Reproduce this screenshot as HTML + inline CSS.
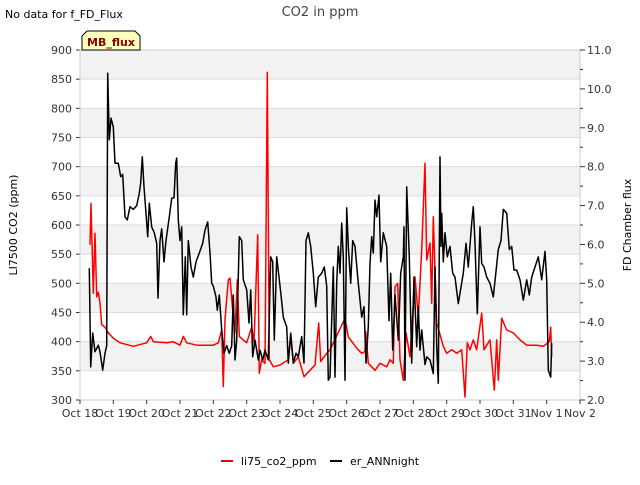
<!DOCTYPE html>
<html><head><meta charset="utf-8"><style>
body{margin:0;background:#fff;font-family:"Liberation Sans","DejaVu Sans",sans-serif;}
svg text{font-family:"DejaVu Sans","Liberation Sans",sans-serif;}
</style></head><body>
<svg id="chart" width="640" height="480" viewBox="0 0 640 480">
<g id="bands"></g>
<g id="grid"></g>
<g id="axes"></g>
<g id="series"></g>
<text x="320" y="16" font-size="13" fill="#444" text-anchor="middle">CO2 in ppm</text>
<text x="5" y="18" font-size="11" fill="#000">No data for f_FD_Flux</text>
<g>
<path d="M82,50 L82,36 L87,31 L135,31 L140,36 L140,50 Z" fill="#ffffc0" stroke="#000" stroke-width="1"/>
<text x="111" y="46" font-size="11" font-weight="bold" fill="#8b0000" text-anchor="middle">MB_flux</text>
</g>
<text transform="translate(17,225) rotate(-90)" font-size="11" text-anchor="middle">LI7500 CO2 (ppm)</text>
<text transform="translate(631,225) rotate(-90)" font-size="11" text-anchor="middle">FD Chamber flux</text>
<g>
<g><line x1="221" y1="461" x2="233" y2="461" stroke="#e00" stroke-width="2"/><text x="241" y="465" font-size="11">li75_co2_ppm</text></g>
<g><line x1="330" y1="461" x2="342" y2="461" stroke="#000" stroke-width="2"/><text x="350" y="465" font-size="11">er_ANNnight</text></g>
</g>
</svg>
<script>
const xTickLabels=["Oct 18","Oct 19","Oct 20","Oct 21","Oct 22","Oct 23","Oct 24","Oct 25","Oct 26","Oct 27","Oct 28","Oct 29","Oct 30","Oct 31","Nov 1","Nov 2"];
const leftTicks=[300,350,400,450,500,550,600,650,700,750,800,850,900];
const rightTicks=[2,3,4,5,6,7,8,9,10,11];
const co2Days=[0.3,0.33,0.4,0.45,0.5,0.55,0.6,0.65,0.75,0.85,1.0,1.2,1.6,2.0,2.12,2.2,2.6,2.8,3.0,3.1,3.2,3.5,4.0,4.15,4.25,4.3,4.35,4.45,4.5,4.58,4.65,4.72,4.78,5.0,5.15,5.22,5.33,5.38,5.45,5.55,5.62,5.68,5.8,6.0,6.25,6.32,6.4,6.55,6.72,6.9,7.05,7.16,7.22,7.4,7.5,7.95,8.05,8.3,8.45,8.55,8.57,8.65,8.85,9.0,9.2,9.3,9.4,9.45,9.53,9.6,9.7,9.78,9.9,10.05,10.15,10.25,10.35,10.4,10.5,10.55,10.6,10.7,10.9,11.0,11.15,11.3,11.45,11.55,11.62,11.7,11.8,11.9,12.05,12.12,12.3,12.43,12.5,12.55,12.65,12.8,13.0,13.2,13.4,13.7,13.9,14.08,14.12,14.15];
const co2Vals=[566,637,483,586,477,485,466,429,425,415,406,398,392,398,409,400,398,400,394,409,398,394,394,398,420,323,437,506,509,454,415,506,409,398,425,398,583,346,369,363,862,369,357,360,369,409,363,374,340,351,360,432,366,380,386,440,408,389,380,383,417,363,351,363,357,369,363,494,500,369,334,415,374,511,443,557,706,540,569,466,614,432,392,380,386,380,386,305,398,386,403,386,449,386,403,317,403,334,440,420,415,403,394,394,392,400,425,374];
const fluxDays=[0.28,0.32,0.38,0.45,0.55,0.6,0.68,0.75,0.8,0.83,0.88,0.93,1.0,1.05,1.15,1.22,1.28,1.35,1.42,1.5,1.6,1.7,1.78,1.82,1.87,1.92,1.98,2.03,2.08,2.15,2.23,2.3,2.34,2.4,2.45,2.52,2.58,2.68,2.75,2.82,2.87,2.9,2.95,3.0,3.05,3.1,3.16,3.2,3.25,3.33,3.4,3.48,3.58,3.68,3.75,3.83,3.9,3.95,4.0,4.08,4.12,4.18,4.25,4.32,4.4,4.48,4.55,4.6,4.65,4.7,4.78,4.85,4.9,5.0,5.07,5.12,5.18,5.25,5.35,5.4,5.48,5.55,5.65,5.72,5.78,5.83,5.9,5.98,6.03,6.1,6.2,6.25,6.32,6.4,6.48,6.55,6.65,6.72,6.78,6.85,6.92,7.0,7.07,7.15,7.25,7.33,7.4,7.45,7.5,7.6,7.65,7.7,7.75,7.8,7.85,7.9,7.95,8.0,8.05,8.12,8.18,8.25,8.35,8.45,8.52,8.58,8.65,8.7,8.75,8.8,8.85,8.9,8.97,9.02,9.1,9.2,9.27,9.32,9.38,9.45,9.55,9.62,9.7,9.72,9.75,9.8,9.88,9.95,10.02,10.1,10.15,10.2,10.25,10.35,10.4,10.5,10.6,10.65,10.7,10.75,10.8,10.83,10.85,10.9,10.95,11.02,11.1,11.18,11.25,11.35,11.5,11.58,11.65,11.75,11.8,11.85,11.92,12.0,12.05,12.12,12.2,12.3,12.4,12.55,12.63,12.7,12.8,12.88,12.95,13.02,13.1,13.2,13.3,13.4,13.48,13.55,13.65,13.75,13.85,13.95,14.0,14.05,14.12,14.15,14.22,14.3];
const fluxVals=[5.39,2.85,3.72,3.24,3.41,3.24,2.77,3.2,3.4,10.4,8.69,9.25,9.02,8.09,8.09,7.74,7.8,6.71,6.63,6.97,6.9,7.0,7.32,7.58,8.25,7.48,6.8,6.2,7.06,6.45,6.3,6.03,4.62,6.1,6.4,5.55,6.1,6.71,7.19,7.2,8.09,8.22,6.63,6.1,6.45,4.19,5.68,4.19,6.1,5.42,5.16,5.55,5.78,6.03,6.37,6.58,5.78,5.0,4.93,4.65,4.31,4.7,3.8,3.2,3.4,3.2,3.4,4.7,3.03,3.54,6.2,6.1,5.09,4.83,3.98,4.83,3.11,3.54,3.03,3.28,3.03,3.28,3.03,5.68,5.55,3.54,5.68,5.09,4.7,4.13,3.88,2.95,3.72,2.95,3.2,3.11,3.63,2.95,6.1,6.3,5.95,5.26,4.4,5.16,5.26,5.42,4.93,2.51,2.59,5.42,2.59,5.0,5.95,5.26,6.55,5.68,2.51,6.94,5.95,5.0,6.1,5.95,5.0,4.13,4.4,2.95,3.88,5.51,6.2,5.78,7.14,6.71,7.27,5.55,6.3,5.95,4.04,5.26,3.28,4.7,3.54,5.26,5.68,6.45,2.51,7.48,5.68,2.95,5.16,3.37,4.4,3.28,3.8,2.91,3.11,3.03,2.68,5.42,3.37,2.43,8.25,5.95,6.8,5.55,6.3,5.68,5.95,5.26,5.16,4.48,5.26,6.03,5.42,6.55,6.97,6.03,4.22,6.45,5.51,5.42,5.16,5.0,4.65,5.87,6.1,6.9,6.8,5.87,5.95,5.34,5.34,5.09,4.57,5.09,4.7,5.16,5.42,5.68,5.09,5.82,5.09,2.77,2.59,3.46];

const NS="http://www.w3.org/2000/svg";
const X0=80,X1=580,Y0=50,Y1=400;
const xs=d=>X0+d*(X1-X0)/15;
const yL=v=>Y1-(v-300)*(Y1-Y0)/600;
const yR=v=>Y1-(v-2)*(Y1-Y0)/9;
function mk(tag,attrs,parent){const e=document.createElementNS(NS,tag);for(const k in attrs)e.setAttribute(k,attrs[k]);document.getElementById(parent).appendChild(e);return e;}

for(let i=0;i<leftTicks.length-1;i++){
  if(i%2===1){
    const r=mk('rect',{x:X0,y:yL(leftTicks[i+1]),width:X1-X0,height:yL(leftTicks[i])-yL(leftTicks[i+1]),fill:'#f2f2f2'},'bands');
    
    
  }
}
leftTicks.forEach(v=>{
  const l=mk('line',{x1:X0,x2:X1,y1:yL(v),y2:yL(v),stroke:'#dcdcdc','stroke-width':1},'grid');
  
  
  const t=mk('text',{x:72,y:yL(v)+4,'font-size':11,'text-anchor':'end',fill:'#333'},'axes');
  t.textContent=v;
  
  
  const tk=mk('line',{x1:X0-4,x2:X0,y1:yL(v),y2:yL(v),stroke:'#333'},'axes');
  
  
});
const frame=mk('rect',{x:X0,y:Y0,width:X1-X0,height:Y1-Y0,fill:'none',stroke:'#ccc'},'axes');


rightTicks.forEach(v=>{
  const tk=mk('line',{x1:X1,x2:X1+5,y1:yR(v),y2:yR(v),stroke:'#333'},'axes');
  
  
  if(v<11){const m=mk('line',{x1:X1,x2:X1+3,y1:yR(v+0.5),y2:yR(v+0.5),stroke:'#333'},'axes');
  
  }
  const t=mk('text',{x:587,y:yR(v)+4,'font-size':11,fill:'#333'},'axes');
  t.textContent=v.toFixed(1);
  
  
});
xTickLabels.forEach((s,i)=>{
  const tk=mk('line',{x1:xs(i),x2:xs(i),y1:Y1,y2:Y1+4,stroke:'#333'},'axes');
  
  
  const t=mk('text',{x:xs(i),y:Y1+17,'font-size':11,'text-anchor':'middle',fill:'#333'},'axes');
  t.textContent=s;
  
  
});
const pr=mk('polyline',{points:co2Days.map((d,i)=>xs(d).toFixed(1)+','+yL(co2Vals[i]).toFixed(1)).join(' '),fill:'none',stroke:'#ff0000','stroke-width':1.5,'stroke-linejoin':'round'},'series');


const pb=mk('polyline',{points:fluxDays.map((d,i)=>xs(d).toFixed(1)+','+yR(fluxVals[i]).toFixed(1)).join(' '),fill:'none',stroke:'#000','stroke-width':1.5,'stroke-linejoin':'round'},'series');


</script>
</body></html>
